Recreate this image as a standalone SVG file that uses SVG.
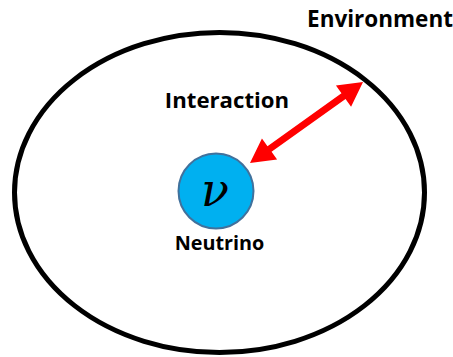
<svg xmlns="http://www.w3.org/2000/svg" width="453" height="357" viewBox="0 0 453 357">
<style>
.lbl{font-family:"Open Sans","Noto Sans","Liberation Sans",sans-serif;font-weight:bold;fill:#000}
</style>
<rect width="453" height="357" fill="#fff"/>
<g id="environment">
<ellipse cx="219.5" cy="192.5" rx="205" ry="160" fill="none" stroke="#000" stroke-width="5"/>
<text class="lbl" x="380" y="27" font-size="22.5" text-anchor="middle">Environment</text>
</g>
<g id="neutrino">
<circle cx="216" cy="191" r="37.5" fill="#00B0F0" stroke="#41719C" stroke-width="2"/>
<text x="215" y="206" font-family="'DejaVu Serif','Liberation Serif',serif" font-style="italic" font-size="46" text-anchor="middle" fill="#000">ν</text>
<text class="lbl" x="219.5" y="250" font-size="19.8" text-anchor="middle">Neutrino</text>
</g>
<g id="connectors">
<polygon transform="translate(250,163) rotate(-35.6)" fill="#FF0000" points="0,0 24,-13 24,-3.5 115,-3.5 115,-13 139,0 115,13 115,3.5 24,3.5 24,13"/>
<text class="lbl" x="227" y="108" font-size="22.2" text-anchor="middle">Interaction</text>
</g>
</svg>
